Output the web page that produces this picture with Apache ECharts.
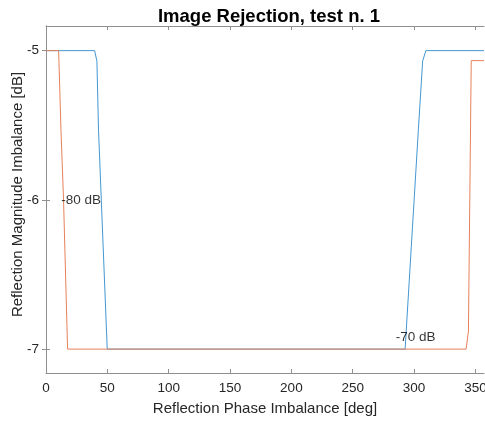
<!DOCTYPE html>
<html>
<head>
<meta charset="utf-8">
<script src="https://cdn.jsdelivr.net/npm/echarts@6/dist/echarts.min.js"></script>
<style>
  html, body { margin: 0; padding: 0; background: #fff; }
  #chart { width: 485px; height: 423px; }
</style>
</head>
<body>
<div id="chart"></div>
<script>
// Contour lines of image rejection over phase / magnitude imbalance
const xTicks = [0, 50, 100, 150, 200, 250, 300, 350];
const yTicks = [-7, -6, -5];

// -70 dB contour (two branches joined along the floor)
const blueX = [0, 39.6, 41.5, 42.8, 49.9, 292.7, 303.5, 307, 309.6, 357];
const blueY = [-5, -5, -5.07, -5.53, -7, -7, -5.53, -5.07, -5, -5];

// -80 dB contour
const orangeX = [0, 10.3, 12.2, 14.3, 17.6, 342.4, 344.3, 346.6, 357];
const orangeY = [-5, -5, -5.53, -6, -7, -7, -6.88, -5.067, -5.067];

// Contour level labels: [x, y, text]
const levelLabels = [
  [12.5, -6, '-80 dB'],
  [285, -6.92, '-70 dB']
];

const xMin = 0, xMax = 357, yMin = -7.16, yMax = -4.835;

const pairs = (xs, ys) => xs.map((x, i) => [x, ys[i]]);

const axisGray = '#8f8f8f';
const textColor = '#262626';
const tickFont = 13.5;

const chart = echarts.init(document.getElementById('chart'), null, { renderer: 'canvas' });

chart.setOption({
  animation: false,
  backgroundColor: '#ffffff',
  title: {
    text: 'Image Rejection, test n. 1',
    left: 264,
    top: 2,
    textAlign: 'center',
    textStyle: { fontFamily: 'Liberation Sans, Arial', fontWeight: 'bold', fontSize: 18.5, color: '#000' }
  },
  grid: { left: 46, right: 1, top: 26, bottom: 50, containLabel: false, outerBoundsMode: 'none' },
  xAxis: [
    {
      type: 'value', min: xMin, max: xMax, position: 'bottom',
      name: 'Reflection Phase Imbalance [deg]', nameLocation: 'middle', nameGap: 28,
      nameMoveOverlap: false,
      nameTextStyle: { fontFamily: 'Liberation Sans, Arial', fontSize: 15, color: textColor },
      axisLine: { show: true, lineStyle: { color: axisGray, width: 1 } },
      axisTick: { show: true, inside: true, length: 4, customValues: xTicks, lineStyle: { color: axisGray } },
      axisLabel: { customValues: xTicks, margin: 8, fontFamily: 'Liberation Sans, Arial', fontSize: tickFont, color: textColor },
      splitLine: { show: false }
    },
    {
      type: 'value', min: xMin, max: xMax, position: 'top',
      axisLine: { show: true, lineStyle: { color: axisGray, width: 1 } },
      axisTick: { show: true, inside: true, length: 4, customValues: xTicks, lineStyle: { color: axisGray } },
      axisLabel: { show: false },
      splitLine: { show: false }
    }
  ],
  yAxis: [
    {
      type: 'value', min: yMin, max: yMax, position: 'left',
      name: 'Reflection Magnitude Imbalance [dB]', nameLocation: 'middle', nameGap: 21,
      nameMoveOverlap: false,
      nameTextStyle: { fontFamily: 'Liberation Sans, Arial', fontSize: 15, color: textColor, padding: [0, 0, 0, 10] },
      axisLine: { show: true, lineStyle: { color: axisGray, width: 1 } },
      axisTick: { show: true, inside: true, length: 4, customValues: yTicks, lineStyle: { color: axisGray } },
      axisLabel: { customValues: yTicks, margin: 7, fontFamily: 'Liberation Sans, Arial', fontSize: tickFont, color: textColor },
      splitLine: { show: false }
    },
    {
      type: 'value', min: yMin, max: yMax, position: 'right',
      axisLine: { show: true, lineStyle: { color: axisGray, width: 1 } },
      axisTick: { show: true, inside: true, length: 4, customValues: yTicks, lineStyle: { color: axisGray } },
      axisLabel: { show: false },
      splitLine: { show: false }
    }
  ],
  series: [
    {
      name: '-70 dB', type: 'line', xAxisIndex: 0, yAxisIndex: 0,
      data: pairs(blueX, blueY), showSymbol: false, symbol: 'none', z: 2,
      lineStyle: { color: '#4497d4', width: 1 }
    },
    {
      name: '-80 dB', type: 'line', xAxisIndex: 0, yAxisIndex: 0,
      data: pairs(orangeX, orangeY), showSymbol: false, symbol: 'none', z: 3,
      lineStyle: { color: '#e6815a', width: 1 }
    },
    {
      name: 'levels', type: 'scatter', xAxisIndex: 0, yAxisIndex: 0,
      data: levelLabels.map(d => ({ value: [d[0], d[1]], name: d[2] })),
      symbolSize: 0, z: 5, silent: true,
      label: {
        show: true, position: 'right', distance: 0,
        formatter: p => p.name,
        fontFamily: 'Liberation Sans, Arial', fontSize: tickFont, color: '#000'
      }
    }
  ]
});
</script>
</body>
</html>
